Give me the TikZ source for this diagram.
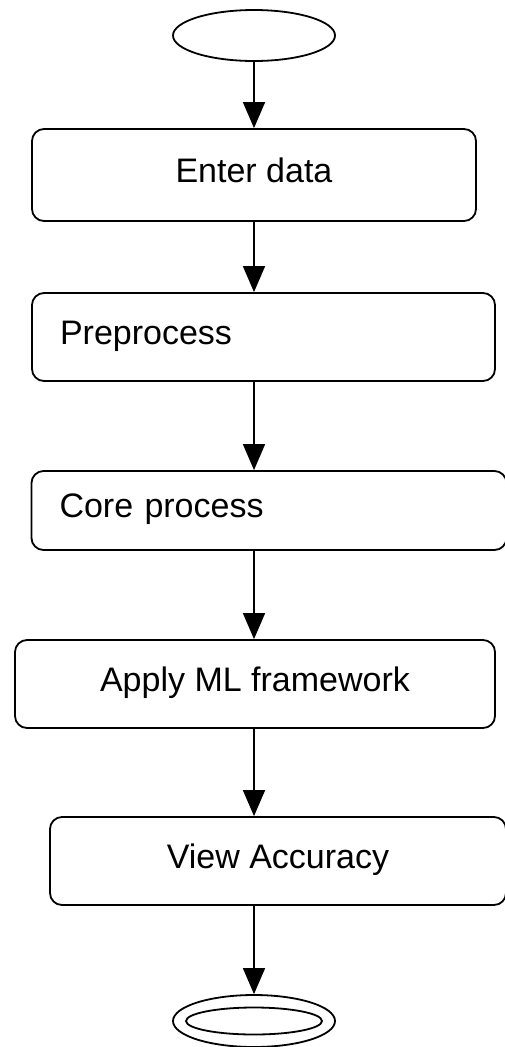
\documentclass[tikz,border=0pt]{standalone}
\usepackage{fontspec}
\setmainfont{Liberation Sans}
\usepackage{tikz}
\usetikzlibrary{shapes,arrows.meta}
\tikzstyle{line} = [line width=1.6pt, -{Triangle[length=26pt,width=22pt]}]
\tikzstyle{elli} = [draw, ellipse, line width=1.8pt, inner sep=0pt, minimum width=162pt, minimum height=51pt]
\tikzstyle{block} = [draw, rectangle, rounded corners=12pt, line width=1.8pt, minimum height=88pt, font=\fontsize{34}{40}\selectfont, text height=25pt, text depth=11pt]

\begin{document}
\begin{tikzpicture}[x=1pt,y=-1pt]
        \useasboundingbox (0,0) rectangle (504,1047);
        \node[elli](Start) at (254,35.5){};
        \node[block, minimum width=444pt, minimum height=92pt](EnterData) at (254,175){Enter data};
        \node[block, text width=407pt, inner xsep=28pt, align=left](Preprocess) at (263.5,337){Preprocess};
        \node[block, text width=419pt, inner xsep=28pt, align=left, minimum height=79pt](CoreProcess) at (269,510.5){Core process};
        \node[block, minimum width=480pt](ApplyML) at (255,684){Apply ML framework};
        \node[block, minimum width=456pt](ViewAccuracy) at (278,861){View Accuracy};
        % end point drawn as two ellipses
        \node[elli, minimum height=52pt](Stop) at (254,1021){};
        \node[elli, minimum width=136pt, minimum height=27pt](StopInner) at (Stop.center){};
        \path[line](Start.south) edge (Start.south |- EnterData.north);
        \path[line](Start.south |- EnterData.south) edge (Start.south |- Preprocess.north);
        \path[line](Start.south |- Preprocess.south) edge (Start.south |- CoreProcess.north);
        \path[line](Start.south |- CoreProcess.south) edge (Start.south |- ApplyML.north);
        \path[line](Start.south |- ApplyML.south) edge (Start.south |- ViewAccuracy.north);
        \path[line](Start.south |- ViewAccuracy.south) edge (Stop.north);
    \end{tikzpicture}
\end{document}
